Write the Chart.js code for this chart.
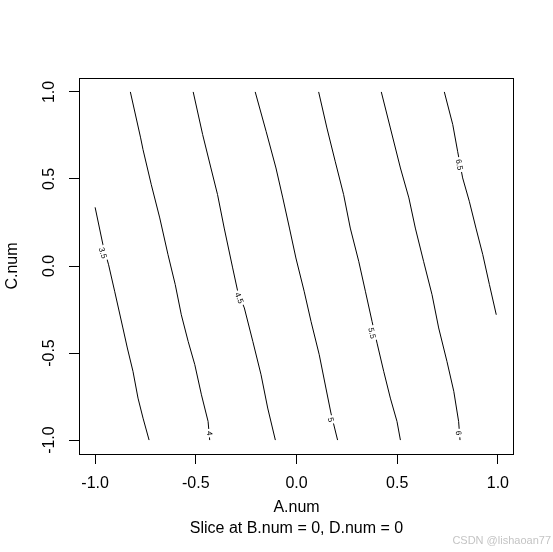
<!DOCTYPE html>
<html>
<head>
<meta charset="utf-8">
<script src="https://cdn.jsdelivr.net/npm/chart.js@4"></script>
<style>
  html, body { margin: 0; padding: 0; background: #fff; }
  #wrap { width: 553px; height: 552px; position: relative; }
</style>
</head>
<body>
<div id="wrap"><canvas id="myChart"></canvas></div>
<script>
const levels = ["3.5", "4", "4.5", "5", "5.5", "6", "6.5"];
const tickValues = [-1, -0.5, 0, 0.5, 1];
const tickLabels = ["-1.0", "-0.5", "0.0", "0.5", "1.0"];

// contour lines: A.num (x) and C.num (y)
const a35 = [-1.0, -0.961, -0.933, -0.903, -0.862, -0.840, -0.812, -0.787, -0.762, -0.732];
const c35 = [0.337, 0.122, 0.007, -0.145, -0.356, -0.471, -0.605, -0.759, -0.874, -1.0];
const a40 = [-0.825, -0.774, -0.762, -0.721, -0.679, -0.638, -0.602, -0.572, -0.538, -0.505, -0.472, -0.439, -0.431];
const c40 = [1.0, 0.736, 0.668, 0.467, 0.276, 0.065, -0.107, -0.280, -0.433, -0.567, -0.740, -0.893, -1.0];
const a45 = [-0.513, -0.466, -0.425, -0.392, -0.359, -0.317, -0.292, -0.259, -0.217, -0.176, -0.143, -0.105];
const c45 = [1.0, 0.755, 0.563, 0.410, 0.218, -0.011, -0.145, -0.241, -0.433, -0.625, -0.816, -1.0];
const a50 = [-0.205, -0.151, -0.102, -0.068, -0.035, -0.003, 0.038, 0.072, 0.113, 0.146, 0.171, 0.204];
const c50 = [1.0, 0.774, 0.563, 0.391, 0.218, 0.046, -0.145, -0.318, -0.510, -0.701, -0.845, -1.0];
const a55 = [0.110, 0.151, 0.192, 0.234, 0.267, 0.309, 0.342, 0.375, 0.400, 0.433, 0.466, 0.499, 0.516];
const c55 = [1.0, 0.793, 0.602, 0.410, 0.218, 0.027, -0.145, -0.318, -0.443, -0.605, -0.759, -0.893, -1.0];
const a60 = [0.421, 0.466, 0.516, 0.558, 0.590, 0.631, 0.673, 0.706, 0.747, 0.781, 0.805, 0.812];
const c60 = [1.0, 0.793, 0.563, 0.391, 0.218, 0.027, -0.165, -0.356, -0.548, -0.720, -0.893, -1.0];
const a65 = [0.734, 0.776, 0.800, 0.825, 0.858, 0.891, 0.925, 0.958, 0.992];
const c65 = [1.0, 0.812, 0.659, 0.506, 0.372, 0.218, 0.065, -0.107, -0.280];

// where each level label sits on its line
const labelA = [-0.961, -0.431, -0.284, 0.171, 0.375, 0.805, 0.809];
const labelC = [0.075, -0.96, -0.184, -0.883, -0.385, -0.96, 0.582];

const lineA = [a35, a40, a45, a50, a55, a60, a65];
const lineC = [c35, c40, c45, c50, c55, c60, c65];

const FONT = "'Liberation Sans', Arial, sans-serif";
Chart.defaults.font.family = FONT;
Chart.defaults.color = "#000";

const fixedTicks = scale => {
  scale.ticks = tickValues.map(v => ({ value: v }));
};

// box, y tick labels, contour labels, watermark
const extras = {
  id: "extras",
  afterDatasetsDraw(chart) {
    const { ctx, chartArea, scales } = chart;
    const xs = scales.x, ys = scales.y;

    ctx.save();
    ctx.font = "8px " + FONT;
    ctx.textAlign = "center";
    ctx.textBaseline = "middle";
    levels.forEach((lev, i) => {
      const pts = chart.getDatasetMeta(i).data;
      const px = xs.getPixelForValue(labelA[i]);
      const py = ys.getPixelForValue(labelC[i]);
      let best = 0, bd = Infinity;
      for (let k = 0; k < pts.length - 1; k++) {
        const mx = (pts[k].x + pts[k + 1].x) / 2, my = (pts[k].y + pts[k + 1].y) / 2;
        const d = (mx - px) ** 2 + (my - py) ** 2;
        if (d < bd) { bd = d; best = k; }
      }
      const ang = Math.atan2(pts[best + 1].y - pts[best].y, pts[best + 1].x - pts[best].x);
      const w = ctx.measureText(lev).width;
      ctx.save();
      ctx.translate(px, py);
      ctx.rotate(ang);
      ctx.fillStyle = "#fff";
      ctx.fillRect(-w / 2 - 2, -4.5, w + 4, 9);
      ctx.fillStyle = "#000";
      ctx.fillText(lev, 0, 0.5);
      ctx.restore();
    });

    ctx.strokeStyle = "#000";
    ctx.lineWidth = 1;
    ctx.strokeRect(chartArea.left + 0.5, chartArea.top + 0.5,
      chartArea.right - chartArea.left - 1, chartArea.bottom - chartArea.top);

    ctx.font = "16px " + FONT;
    ctx.fillStyle = "#000";
    tickValues.forEach((v, i) => {
      ctx.save();
      ctx.translate(50, ys.getPixelForValue(v));
      ctx.rotate(-Math.PI / 2);
      ctx.fillText(tickLabels[i], 0, 0);
      ctx.restore();
    });

    ctx.font = "11px " + FONT;
    ctx.fillStyle = "#c4c4c4";
    ctx.textAlign = "right";
    ctx.fillText("CSDN @lishaoan77", 551, 541);
    ctx.restore();
  }
};

new Chart(document.getElementById("myChart"), {
  type: "scatter",
  data: {
    datasets: levels.map((lev, i) => ({
      label: lev,
      data: lineA[i].map((a, k) => ({ x: a, y: lineC[i][k] })),
      showLine: true,
      borderColor: "#000",
      borderWidth: 1,
      pointRadius: 0,
      tension: 0
    }))
  },
  options: {
    responsive: true,
    maintainAspectRatio: false,
    animation: false,
    layout: { padding: { left: 0, right: 39, top: 78, bottom: 0 } },
    plugins: { legend: { display: false }, tooltip: { enabled: false } },
    scales: {
      x: {
        type: "linear",
        min: -1.08,
        max: 1.08,
        afterBuildTicks: fixedTicks,
        afterFit: s => { s.height = 98; },
        border: { display: false },
        grid: { drawOnChartArea: false, drawTicks: true, tickLength: 10, color: "#000" },
        ticks: {
          font: { size: 16 },
          color: "#000",
          padding: 10,
          maxRotation: 0,
          callback: (v, i) => tickLabels[i]
        },
        title: {
          display: true,
          text: ["A.num", "Slice at B.num = 0, D.num = 0"],
          font: { size: 16, lineHeight: 1.3 },
          color: "#000",
          padding: { top: 0, bottom: 13 }
        }
      },
      y: {
        type: "linear",
        min: -1.08,
        max: 1.08,
        afterBuildTicks: fixedTicks,
        afterFit: s => { s.width = 79; },
        border: { display: false },
        grid: { drawOnChartArea: false, drawTicks: true, tickLength: 10, color: "#000" },
        ticks: { display: false },
        title: {
          display: true,
          text: "C.num",
          font: { size: 16, lineHeight: 1.3 },
          color: "#000",
          padding: { top: 2.6, bottom: 0 }
        }
      }
    }
  },
  plugins: [extras]
});
</script>
</body>
</html>
